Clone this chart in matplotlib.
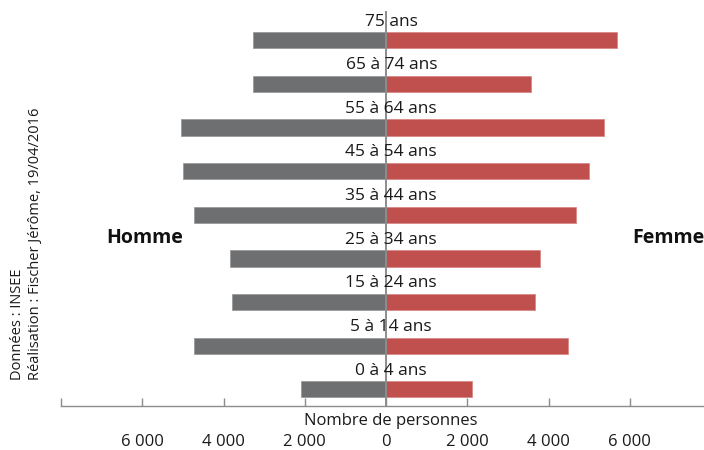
import matplotlib
matplotlib.use("Agg")
import matplotlib.pyplot as plt
import matplotlib.transforms as mtransforms

plt.rcParams['font.family'] = ['Open Sans', 'DejaVu Sans']

# Age groups, from youngest (bottom) to oldest (top)
age_groups = ["0 à 4 ans", "5 à 14 ans", "15 à 24 ans", "25 à 34 ans", "35 à 44 ans",
              "45 à 54 ans", "55 à 64 ans", "65 à 74 ans", "75 ans"]
hommes = [2100, 4726, 3799, 3840, 4726, 5005, 5046, 3282, 3282]
femmes = [2109, 4488, 3676, 3799, 4685, 5005, 5374, 3561, 5686]

tick_values = [-8000, -6000, -4000, -2000, 0, 2000, 4000, 6000, 8000]
tick_labels = ["", "6 000", "4 000", "2 000", "0", "2 000", "4 000", "6 000", ""]

grey = "#6E6F71"
red = "#C0504D"
axis_grey = "#8C8C8C"

W, H = 704, 450
fig = plt.figure(figsize=(W / 100, H / 100), dpi=100)
ax = fig.add_axes([61 / W, 44 / H, 650 / W, 406 / H])

y = list(range(len(age_groups)))
neg_h = [-v for v in hommes]
ax.barh(y, neg_h, height=0.37, color=grey, edgecolor="#9A9B9D", linewidth=0.6, zorder=2)
ax.barh(y, femmes, height=0.37, color=red, edgecolor="#D98A88", linewidth=0.6, zorder=2)

ax.set_xlim(-8000, 8000)
ax.set_ylim(-0.38, 8.923)

# central separator line
ax.plot([0, 0], [-0.38, 8.65], color=axis_grey, linewidth=1.4, zorder=3)

# age group labels above each pair of bars
for yi, lab in zip(y, age_groups):
    ax.text(130, yi + 0.43, lab, ha="center", va="center", fontsize=12.5,
            color="#1a1a1a", zorder=4)

for side in ["top", "right", "left"]:
    ax.spines[side].set_visible(False)
ax.spines["bottom"].set_color(axis_grey)
ax.spines["bottom"].set_linewidth(1.0)
ax.set_yticks([])
ax.set_xticks(tick_values)
ax.set_xticklabels(tick_labels, fontsize=12, color="#1a1a1a")
ax.tick_params(axis="x", direction="in", length=6, width=1.0, color=axis_grey, pad=20)

trans = mtransforms.blended_transform_factory(ax.transData, fig.transFigure)
ax.text(120, 1 - 421 / H, "Nombre de personnes", transform=trans, ha="center",
        va="center", fontsize=12, color="#1a1a1a")

fig.text(145 / W, 1 - 238 / H, "Homme", ha="center", va="center", fontsize=14,
         fontweight="bold", color="#111111")
fig.text(668 / W, 1 - 238 / H, "Femme", ha="center", va="center", fontsize=14,
         fontweight="bold", color="#111111")

fig.text(18 / W, 1 - 380 / H, "Données : INSEE", rotation=90, ha="center", va="bottom",
         fontsize=10.5, color="#1a1a1a")
fig.text(36 / W, 1 - 380 / H, "Réalisation : Fischer Jérôme, 19/04/2016", rotation=90,
         ha="center", va="bottom", fontsize=10.5, color="#1a1a1a")

fig.savefig("out.png", dpi=100, facecolor="white")
